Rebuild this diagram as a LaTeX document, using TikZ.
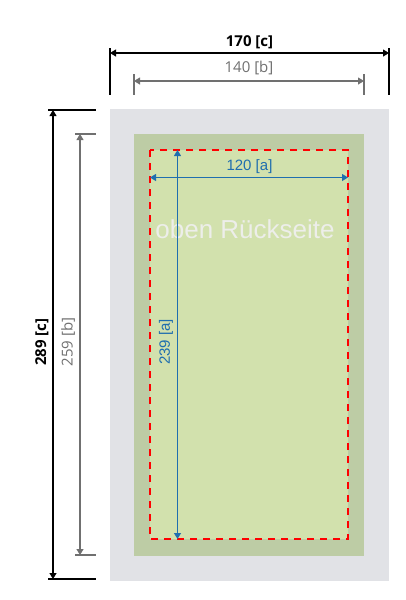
\documentclass[tikz,border=0pt]{standalone}
\usepackage{fontspec}
\setmainfont{Open Sans}
\newfontfamily\arialf{Liberation Sans}
\usetikzlibrary{arrows.meta}
\definecolor{bggray}{HTML}{E1E2E6}
\definecolor{outergreen}{HTML}{BDCCA5}
\definecolor{innergreen}{HTML}{D2E1AD}
\definecolor{dimgray}{HTML}{707070}
\definecolor{dimblue}{HTML}{1F6EAF}
\definecolor{labelwhite}{HTML}{EDEEEA}
\tikzset{
  dimtip/.tip={Triangle[length=6pt,width=7pt]},
  dimc/.style={black,line width=1.4pt},
  dimarrowc/.style={black,line width=1.1pt,{dimtip}-{dimtip}},
  dimb/.style={dimgray,line width=1.1pt},
  dimarrowb/.style={dimgray,line width=1.1pt,{dimtip}-{dimtip}},
  dimarrowa/.style={dimblue,line width=1.1pt,{dimtip}-{dimtip}},
  labc/.style={font=\fontsize{15}{18}\selectfont\bfseries,text=black,inner sep=0pt},
  labb/.style={font=\fontsize{15}{18}\selectfont,text=dimgray,inner sep=0pt},
  laba/.style={font=\arialf\fontsize{15}{18}\selectfont,text=dimblue,inner sep=0pt},
  cutline/.style={red,line width=1.5pt,dash pattern=on 7pt off 6pt},
}
\begin{document}
\begin{tikzpicture}[x=1pt,y=-1pt]
\useasboundingbox[fill=white] (0,0) rectangle (406,600);
% panels
\fill[bggray] (110,109) rectangle (389,581);
\fill[outergreen] (134,134) rectangle (364,556);
\fill[innergreen] (150,150) rectangle (348,539);
\draw[cutline] (150,150) rectangle (348,539);
\node[font=\arialf\fontsize{26}{30}\selectfont,text=labelwhite,inner sep=0pt] (rueck) at (245,229) {oben Rückseite};
% named coordinates
\coordinate (ctl) at (110,53);
\coordinate (ctr) at (389,53);
\coordinate (btl) at (134,81);
\coordinate (btr) at (364,81);
\coordinate (cvt) at (53,110);
\coordinate (cvb) at (53,579);
\coordinate (bvt) at (80,134);
\coordinate (bvb) at (80,555);
\coordinate (ahl) at (150,177.5);
\coordinate (ahr) at (348,177.5);
\coordinate (avt) at (177.5,150);
\coordinate (avb) at (177.5,539);
% top dimensions
\draw[dimc,line width=1.2pt] (110,48) -- (110,95);
\draw[dimc,line width=1.2pt] (389,48) -- (389,95);
\draw[dimarrowc] (ctl) -- (ctr);
\node[labc] (lc) at (249.5,42) {170 [c]};
\draw[dimb] (134,74) -- (134,95);
\draw[dimb] (364,74) -- (364,95);
\draw[dimarrowb] (btl) -- (btr);
\node[labb] (lb) at (249,68) {140 [b]};
% left dimensions
\draw[dimc,line width=1.2pt] (48,110) -- (96,110);
\draw[dimc,line width=1.2pt] (48,579) -- (96,579);
\draw[dimarrowc] (cvt) -- (cvb);
\node[labc,rotate=90] (lcv) at (42,342) {289 [c]};
\draw[dimb] (75,134) -- (96,134);
\draw[dimb] (75,555) -- (96,555);
\draw[dimarrowb] (bvt) -- (bvb);
\node[labb,rotate=90] (lbv) at (68,342) {259 [b]};
% inner dimensions
\draw[dimarrowa] (ahl) -- (ahr);
\node[laba] (la) at (249.5,166.5) {120 [a]};
\draw[dimarrowa] (avt) -- (avb);
\node[laba,rotate=90] (lav) at (166,342) {239 [a]};
\end{tikzpicture}
\end{document}
